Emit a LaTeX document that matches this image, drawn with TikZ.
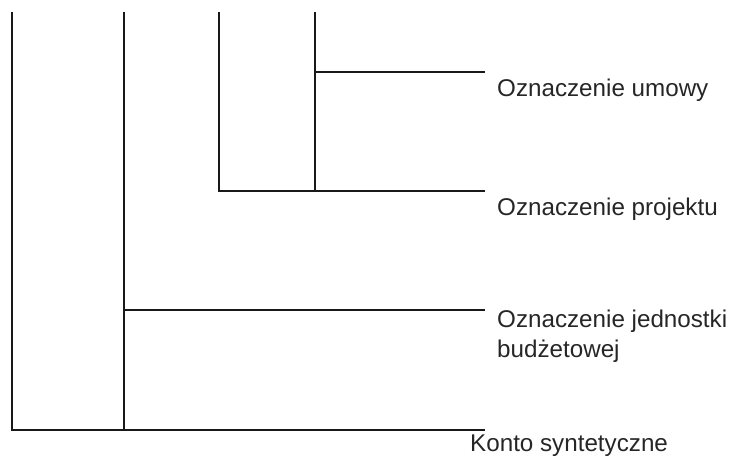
\documentclass[tikz,border=0pt]{standalone}
\usepackage{fontspec}
\setmainfont{Liberation Sans}
\begin{document}
\begin{tikzpicture}[x=1pt,y=-1pt,
  lab/.style={anchor=base west,inner sep=0pt,font=\fontsize{24.2}{29}\selectfont,text=black!85},
  bar/.style={line width=2pt,black!90}]
\useasboundingbox (0,0) rectangle (730,459);
% labels
\node[lab] (umowy) at (497,96) {Oznaczenie umowy};
\node[lab] (projektu) at (497,215) {Oznaczenie projektu};
\node[lab] (jedn) at (497,327) {Oznaczenie jednostki};
\node[lab] (budz) at (497,357) {budżetowej};
\node[lab] (konto) at (470,451) {Konto syntetyczne};
% coordinates
\coordinate (v1t) at (12,12);
\coordinate (v1b) at (12,430);
\coordinate (v2t) at (124,12);
\coordinate (v2b) at (124,430);
\coordinate (v3t) at (219,12);
\coordinate (v3b) at (219,191);
\coordinate (v4t) at (315,12);
\coordinate (v4b) at (315,191);
\coordinate (v4m) at (315,72);
\coordinate (v2m) at (124,310);
\coordinate (e1) at (485,72);
\coordinate (e2) at (485,191);
\coordinate (e3) at (485,310);
\coordinate (e4) at (485,430);
% lines
\draw[bar] (v1t) -- (v1b) -- (e4);
\draw[bar] (v2t) -- (v2b);
\draw[bar] (v2m) -- (e3);
\draw[bar] (v3t) -- (v3b) -- (e2);
\draw[bar] (v4t) -- (v4b);
\draw[bar] (v4m) -- (e1);
\end{tikzpicture}
\end{document}
